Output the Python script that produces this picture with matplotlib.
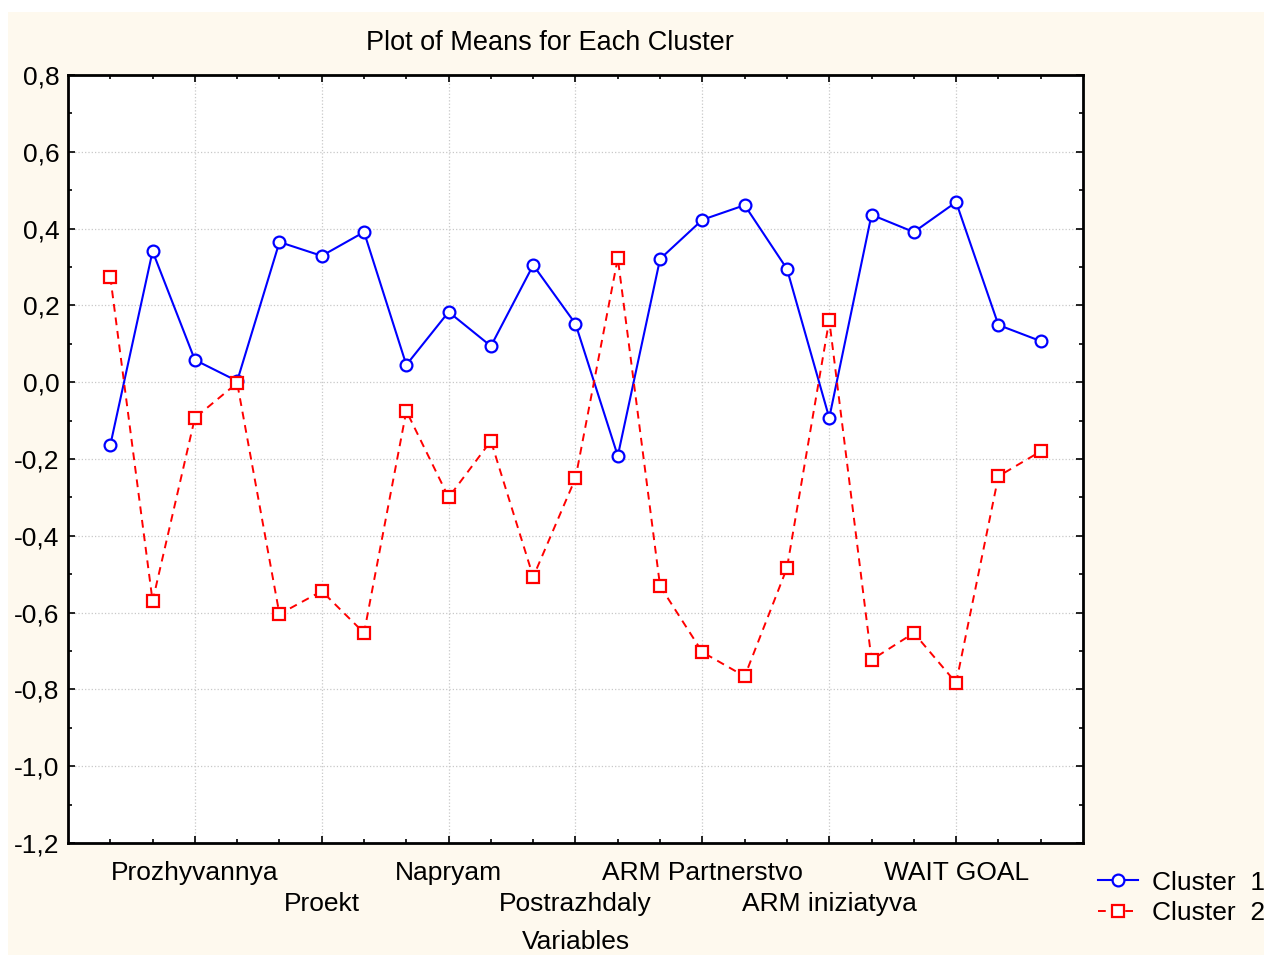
import matplotlib.pyplot as plt
import numpy as np
from matplotlib.patches import Rectangle
from matplotlib.ticker import FuncFormatter

plt.rcParams['font.family'] = ['Liberation Sans', 'DejaVu Sans']

# means per variable (23 variables)
cluster1 = [-0.164, 0.341, 0.058, 0.003, 0.365, 0.329, 0.391, 0.045, 0.183, 0.094,
            0.305, 0.152, -0.192, 0.321, 0.423, 0.461, 0.295, -0.093, 0.436, 0.391,
            0.469, 0.149, 0.107]
cluster2 = [0.274, -0.570, -0.093, -0.002, -0.604, -0.544, -0.653, -0.075, -0.300, -0.153,
            -0.507, -0.250, 0.323, -0.531, -0.703, -0.766, -0.484, 0.162, -0.723, -0.653,
            -0.783, -0.245, -0.180]
label_pos = [2, 5, 8, 11, 14, 17, 20]
label_txt = ['Prozhyvannya', 'Proekt', 'Napryam', 'Postrazhdaly',
             'ARM Partnerstvo', 'ARM iniziatyva', 'WAIT GOAL']
yticks = [0.8, 0.6, 0.4, 0.2, 0.0, -0.2, -0.4, -0.6, -0.8, -1.0, -1.2]

x = np.arange(len(cluster1))

fig = plt.figure(figsize=(12.64, 9.55), dpi=100, facecolor='white')
fig.patches.append(Rectangle((8 / 1264, 0), 1 - 8 / 1264, 1 - 12 / 955,
                             transform=fig.transFigure, facecolor='#fef9ee',
                             edgecolor='none', zorder=-10))

ax = fig.add_axes([68 / 1264, 1 - 843 / 955, (1083 - 68) / 1264, (843 - 75) / 955])
ax.set_facecolor('white')

l1, = ax.plot(x, cluster1, color='#0000ff', lw=1.5, marker='o', ms=8.5,
              mfc='white', mec='#0000ff', mew=1.6, label='Cluster  1', zorder=3)
l2, = ax.plot(x, cluster2, color='#ff0000', lw=1.4, ls=(0, (4, 3)), marker='s', ms=8.5,
              mfc='white', mec='#ff0000', mew=1.6, label='Cluster  2', zorder=3)

ax.set_xlim(-1, 23)
ax.set_ylim(-1.2, 0.8)

# labels alternate between two rows: upper row on the main axis
ax.set_xticks(label_pos)
ax.set_xticklabels([t if i % 2 == 0 else '' for i, t in enumerate(label_txt)])
ax.set_xticks(x, minor=True)
ax.set_yticks(yticks)
ax.set_yticks(np.arange(-1.1, 0.8, 0.2), minor=True)
ax.yaxis.set_major_formatter(FuncFormatter(lambda v, p: f"{v:.1f}".replace('.', ',').replace('-0,0', '0,0')))

ax.tick_params(which='both', direction='in', top=True, right=True, labelsize=19)
ax.tick_params(which='major', length=5, width=1.2)
ax.tick_params(which='minor', length=3, width=1.2)
ax.tick_params(axis='x', pad=13)
ax.tick_params(axis='y', pad=6)

# lower row on a secondary axis
sec = ax.secondary_xaxis('bottom')
sec.set_xticks(label_pos[1::2])
sec.set_xticklabels(label_txt[1::2])
sec.tick_params(length=0, pad=35, labelsize=19)
sec.spines['bottom'].set_visible(False)
sec.set_xlabel('Variables', fontsize=19, labelpad=10)

ax.grid(True, which='major', color='#c8c8c8', ls=':', lw=0.9)
for s in ax.spines.values():
    s.set_linewidth(2)
    s.set_color('black')

fig.text(550 / 1264, 1 - 43 / 955, 'Plot of Means for Each Cluster', fontsize=19.5,
         ha='center', va='center')

fig.legend(handles=[l1, l2], loc='upper left', bbox_to_anchor=(1087 / 1264, 1 - 860 / 955),
           frameon=False, fontsize=19, handlelength=1.55, handletextpad=0.5,
           labelspacing=0.25, borderaxespad=0)

fig.savefig('out.png', dpi=100, facecolor=fig.get_facecolor())
